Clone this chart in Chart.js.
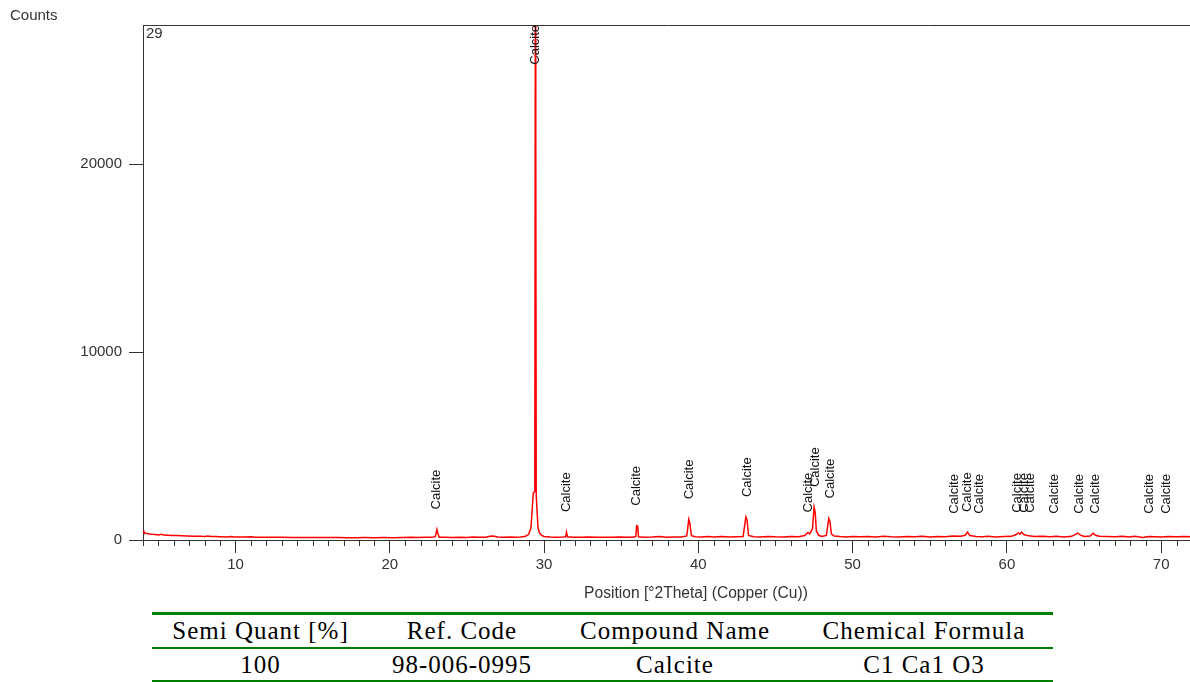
<!DOCTYPE html>
<html><head><meta charset="utf-8">
<script src="https://cdn.jsdelivr.net/npm/chart.js@4.4.1/dist/chart.umd.min.js"></script>
<style>
html,body{margin:0;padding:0;background:#fff;overflow:hidden;width:1190px;height:682px;}
#wrap{position:absolute;left:0;top:0;width:1192px;height:605px;}
table{position:absolute;left:152px;top:612px;width:901px;border-collapse:collapse;table-layout:fixed;
  font-family:"Liberation Serif","Times New Roman",serif;font-size:25px;color:#000;letter-spacing:1px;
  border-top:3px solid #008000;border-bottom:3px solid #008000;}
td{padding:0;text-align:center;white-space:nowrap;}
tr.h td{height:32px;line-height:32px;border-bottom:2px solid #008000;}
tr.d td{height:31px;line-height:31px;}
</style></head>
<body>
<div id="wrap"><canvas id="c" width="1192" height="605"></canvas></div>
<table>
<colgroup><col style="width:217px"><col style="width:186px"><col style="width:240px"><col style="width:258px"></colgroup>
<tr class="h"><td>Semi Quant [%]</td><td>Ref. Code</td><td>Compound Name</td><td>Chemical Formula</td></tr>
<tr class="d"><td>100</td><td>98-006-0995</td><td>Calcite</td><td>C1 Ca1 O3</td></tr>
</table>
<script>
const twoTheta = [4.00,4.05,4.12,4.25,4.40,4.60,4.80,5.00,5.20,5.35,5.60,5.90,6.20,6.50,6.90,7.30,7.70,8.00,8.20,8.40,8.70,9.00,9.40,9.70,9.90,10.20,10.60,11.00,11.30,11.80,12.40,13.00,13.60,14.20,14.80,15.40,16.00,16.60,17.20,17.80,18.40,19.00,19.60,20.20,20.80,21.40,21.80,22.30,22.70,22.95,23.05,23.12,23.20,23.60,24.00,24.50,25.00,25.40,25.80,26.20,26.50,26.70,27.00,27.40,27.80,28.20,28.50,28.80,29.00,29.15,29.30,29.40,29.43,29.46,29.49,29.60,29.70,29.85,30.00,30.40,30.80,31.20,31.40,31.45,31.52,31.90,32.40,32.90,33.40,33.90,34.40,34.90,35.40,35.85,35.95,36.00,36.07,36.12,36.50,37.00,37.50,37.90,38.40,38.90,39.25,39.38,39.45,39.55,39.80,40.20,40.60,41.00,41.50,42.00,42.50,42.90,43.08,43.16,43.25,43.60,44.00,44.50,45.00,45.50,46.00,46.50,46.90,47.10,47.22,47.40,47.50,47.57,47.65,47.80,48.00,48.30,48.45,48.53,48.62,48.80,49.20,49.60,50.00,50.50,51.00,51.50,52.00,52.50,53.00,53.50,54.00,54.50,55.00,55.50,56.00,56.50,57.00,57.30,57.45,57.60,58.00,58.40,58.80,59.30,59.80,60.30,60.60,60.75,60.85,60.95,61.10,61.40,61.80,62.30,62.80,63.20,63.70,64.20,64.60,64.75,65.00,65.40,65.60,65.75,66.00,66.50,67.00,67.50,67.90,68.30,68.80,69.20,69.60,70.00,70.50,71.00,71.50,72.00];
const counts = [520,430,380,340,320,300,290,270,300,260,250,240,235,225,215,205,200,190,215,185,180,175,165,190,165,160,155,170,150,145,140,140,135,135,130,130,128,130,125,125,130,125,128,125,130,140,135,145,140,180,560,330,150,140,135,145,135,160,140,150,200,210,160,145,165,150,160,200,300,650,2500,2600,27400,21900,2400,700,380,240,190,160,150,155,165,420,170,150,145,155,145,150,140,155,145,155,200,760,720,170,150,165,190,150,165,160,220,1100,900,230,170,160,190,165,185,160,175,190,1220,1050,240,170,165,190,170,160,185,170,240,400,330,600,1750,1500,480,250,190,240,1150,1000,330,210,180,165,190,170,185,165,195,170,160,185,170,195,165,185,170,210,195,250,420,240,185,175,195,165,185,195,290,380,310,420,290,220,180,195,175,195,165,195,370,270,185,215,360,250,195,185,175,195,165,195,140,185,175,155,185,175,185,175];
const peakLabelPos = [23.05,29.45,31.45,36.00,39.40,43.15,47.12,47.60,48.55,56.60,57.42,58.20,60.70,61.15,61.50,63.10,64.70,65.75,69.25,70.35];
const peakLabelCounts = [560,27400,420,760,1100,1220,400,1750,1150,330,420,330,380,380,380,330,330,330,330,330];
const peakLabelText = "Calcite";
const xTicks = [10,20,30,40,50,60,70];
const yTicks = [0,10000,20000];
const yTitle = "Counts";
const scanLabel = "29";
const xTitle = "Position [°2Theta] (Copper (Cu))";

const FONT = "'Liberation Sans', Arial, sans-serif";
const AX = '#333333';

const decor = {
  id: 'decor',
  afterDraw(chart) {
    const {ctx, chartArea: a, scales: {x, y}} = chart;
    ctx.save();
    ctx.strokeStyle = AX; ctx.lineWidth = 1;
    ctx.beginPath();
    ctx.moveTo(a.left, a.top + 0.5); ctx.lineTo(a.right, a.top + 0.5);
    for (let v = Math.ceil(x.min); v <= x.max; v++) {
      if (xTicks.includes(v)) continue;
      const px = Math.round(x.getPixelForValue(v)) + 0.5;
      ctx.moveTo(px, a.bottom); ctx.lineTo(px, a.bottom + 6);
    }
    ctx.stroke();
    ctx.fillStyle = AX;
    ctx.font = '15px ' + FONT;
    ctx.textBaseline = 'middle'; ctx.textAlign = 'left';
    ctx.fillText(yTitle, 10, 16);
    ctx.fillText(scanLabel, a.left + 3, a.top + 9);
    ctx.font = '15.6px ' + FONT;
    ctx.textAlign = 'center';
    ctx.fillText(xTitle, 696, a.bottom + 54);
    ctx.fillStyle = '#111';
    ctx.font = '13px ' + FONT;
    peakLabelPos.forEach((p, i) => {
      const px = x.getPixelForValue(p);
      const w = ctx.measureText(peakLabelText).width;
      let yb = y.getPixelForValue(peakLabelCounts[i]) - 20;
      if (yb - w < a.top) yb = a.top + w;
      ctx.save();
      ctx.translate(px, yb);
      ctx.rotate(-Math.PI / 2);
      ctx.textAlign = 'left'; ctx.textBaseline = 'middle';
      ctx.fillText(peakLabelText, 0, 0);
      ctx.restore();
    });
    ctx.restore();
  }
};

new Chart(document.getElementById('c'), {
  type: 'line',
  data: { datasets: [{
    data: twoTheta.map((t, i) => ({x: t, y: counts[i]})),
    borderColor: '#ff0000', borderWidth: 1.5, pointRadius: 0, tension: 0, fill: false
  }]},
  options: {
    responsive: false, animation: false, devicePixelRatio: 1,
    layout: {padding: {top: 25, left: 0, right: 0, bottom: 0}},
    plugins: {legend: {display: false}, tooltip: {enabled: false}},
    scales: {
      x: {
        type: 'linear', min: 4, max: 72,
        afterFit(s) { s.height = 65; },
        afterBuildTicks(s) { s.ticks = xTicks.map(v => ({value: v})); },
        ticks: {font: {size: 15, family: FONT}, color: AX, padding: 3, maxRotation: 0, autoSkip: false, callback: v => String(v)},
        grid: {drawOnChartArea: false, tickLength: 13, color: AX},
        border: {color: AX, width: 1},
        title: {display: false}
      },
      y: {
        min: 0, max: 27400,
        afterFit(s) { s.width = 143; },
        afterBuildTicks(s) { s.ticks = yTicks.map(v => ({value: v})); },
        ticks: {font: {size: 15, family: FONT}, color: AX, padding: 7, callback: v => String(v)},
        grid: {drawOnChartArea: false, tickLength: 14, color: AX},
        border: {color: AX, width: 1}
      }
    }
  },
  plugins: [decor]
});
</script>
</body></html>
